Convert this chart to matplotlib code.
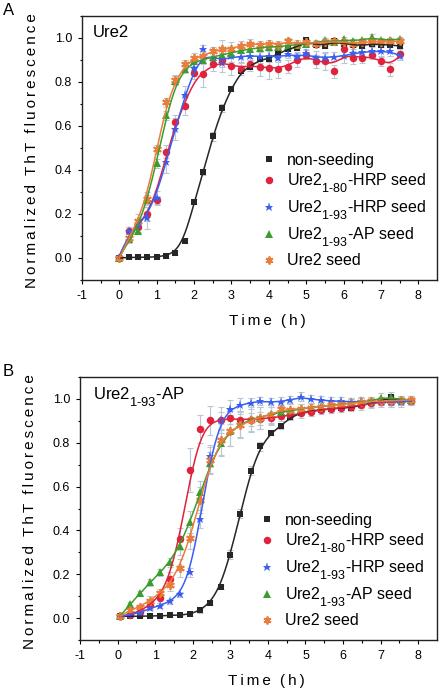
import numpy as np
import matplotlib
matplotlib.use("Agg")
import matplotlib.pyplot as plt
from matplotlib.lines import Line2D

plt.rcParams['font.family'] = ['Liberation Sans', 'DejaVu Sans']
plt.rcParams['mathtext.fontset'] = 'custom'
plt.rcParams['mathtext.rm'] = 'Liberation Sans'
plt.rcParams['mathtext.it'] = 'Liberation Sans:italic'
plt.rcParams['mathtext.bf'] = 'Liberation Sans:bold'
plt.rcParams['axes.unicode_minus'] = False
try:
    import matplotlib._mathtext as _mt
    _mt.SHRINK_FACTOR = 0.78
    _mt.FontConstantsBase.sub1 = 0.8
except Exception:
    pass

# ---------------- data: panel A (Ure2) ----------------
time_A = [0, 0.25, 0.5, 0.75, 1.0, 1.25, 1.5, 1.75, 2.0, 2.25, 2.5, 2.75, 3.0, 3.25, 3.5, 3.75,
          4.0, 4.25, 4.5, 4.75, 5.0, 5.25, 5.5, 5.75, 6.0, 6.25, 6.5, 6.75, 7.0, 7.25, 7.5]
nonseed_A = [0, 0.003, 0.003, 0.003, 0.005, 0.01, 0.023, 0.079, 0.256, 0.391, 0.554, 0.682, 0.770,
             0.852, 0.870, 0.903, 0.903, 0.93, 0.95, 0.955, 0.99, 0.968, 0.965, 0.985, 0.975,
             0.968, 0.965, 0.975, 0.968, 0.97, 0.963]
hrp80_A = [0, 0.122, 0.14, 0.20, 0.263, 0.484, 0.618, 0.690, 0.842, 0.838, 0.88, 0.90, 0.872,
           0.86, 0.88, 0.868, 0.863, 0.86, 0.869, 0.90, 0.925, 0.895, 0.895, 0.849, 0.95,
           0.91, 0.907, 0.925, 0.895, 0.857, 0.929]
hrp93_A = [0, 0.122, 0.15, 0.18, 0.274, 0.436, 0.588, 0.740, 0.865, 0.948, 0.91, 0.887, 0.92,
           0.915, 0.92, 0.915, 0.92, 0.91, 0.929, 0.915, 0.93, 0.91, 0.91, 0.915, 0.916,
           0.93, 0.935, 0.94, 0.94, 0.94, 0.92]
ap93_A = [0, 0.085, 0.125, 0.265, 0.43, 0.648, 0.806, 0.86, 0.895, 0.90, 0.915, 0.925, 0.93,
          0.945, 0.95, 0.955, 0.96, 0.96, 0.965, 0.97, 0.975, 0.978, 0.99, 0.98, 0.994,
          0.985, 0.99, 1.006, 0.99, 0.99, 0.995]
ure2_A = [0, 0.09, 0.17, 0.27, 0.495, 0.708, 0.81, 0.88, 0.91, 0.92, 0.94, 0.95, 0.95, 0.965,
          0.975, 0.97, 0.975, 0.97, 0.985, 0.975, 0.98, 0.975, 0.98, 0.985, 0.98, 0.975,
          0.98, 0.985, 0.98, 0.985, 0.985]
err_nonseed_A = [0.005, 0.005, 0.005, 0.005, 0.005, 0.008, 0.01, 0.01, 0.01, 0.015, 0.02, 0.02,
                 0.01, 0.01, 0.01, 0.015, 0.01, 0.01, 0.01, 0.01, 0.01, 0.01, 0.01, 0.01, 0.01,
                 0.01, 0.01, 0.01, 0.01, 0.01, 0.01]
err_hrp80_A = [0.005, 0.02, 0.02, 0.03, 0.02, 0.03, 0.03, 0.04, 0.03, 0.06, 0.03, 0.03, 0.04,
               0.03, 0.03, 0.04, 0.05, 0.04, 0.03, 0.03, 0.02, 0.03, 0.04, 0.03, 0.03, 0.03,
               0.02, 0.02, 0.02, 0.03, 0.02]
err_hrp93_A = [0.005, 0.02, 0.02, 0.05, 0.03, 0.05, 0.05, 0.04, 0.03, 0.02, 0.02, 0.04, 0.03,
               0.03, 0.02, 0.02, 0.02, 0.02, 0.02, 0.02, 0.02, 0.03, 0.02, 0.02, 0.03, 0.02,
               0.02, 0.02, 0.02, 0.02, 0.02]
err_ap93_A = [0.005, 0.01, 0.015, 0.02, 0.02, 0.02, 0.02, 0.02, 0.02, 0.02, 0.015, 0.015, 0.015,
              0.015, 0.015, 0.015, 0.01, 0.01, 0.01, 0.01, 0.01, 0.01, 0.01, 0.01, 0.01, 0.01,
              0.01, 0.01, 0.01, 0.01, 0.01]
err_ure2_A = [0.005, 0.02, 0.03, 0.03, 0.02, 0.02, 0.02, 0.02, 0.02, 0.02, 0.02, 0.04, 0.03,
              0.02, 0.02, 0.015, 0.015, 0.015, 0.015, 0.015, 0.015, 0.015, 0.015, 0.015, 0.015,
              0.015, 0.015, 0.015, 0.015, 0.015, 0.015]

# ---------------- data: panel B (Ure2 1-93 AP) ----------------
time_B = [0.07, 0.34, 0.6, 0.87, 1.14, 1.4, 1.67, 1.94, 2.2, 2.47, 2.74, 3.0, 3.27, 3.54, 3.8,
          4.07, 4.34, 4.6, 4.87, 5.14, 5.4, 5.67, 5.94, 6.2, 6.47, 6.74, 7.0, 7.27, 7.54, 7.8]
nonseed_B = [0.008, 0.008, 0.008, 0.01, 0.01, 0.012, 0.014, 0.017, 0.035, 0.068, 0.141, 0.289,
             0.476, 0.672, 0.784, 0.845, 0.875, 0.918, 0.936, 0.945, 0.95, 0.955, 0.958, 0.96,
             0.97, 0.98, 0.99, 1.01, 0.99, 0.99]
hrp80_B = [0.008, 0.015, 0.03, 0.06, 0.091, 0.178, 0.361, 0.674, 0.863, 0.902, 0.902, 0.915,
           0.903, 0.906, 0.91, 0.912, 0.92, 0.925, 0.935, 0.94, 0.95, 0.955, 0.96, 0.965, 0.97,
           0.98, 0.985, 0.985, 0.99, 0.99]
hrp93_B = [0.008, 0.015, 0.025, 0.045, 0.057, 0.076, 0.108, 0.208, 0.452, 0.74, 0.903, 0.954,
           0.973, 0.983, 0.99, 0.985, 0.988, 0.995, 1.01, 0.998, 0.995, 0.99, 0.99, 0.985,
           0.99, 0.985, 0.99, 0.985, 0.985, 0.99]
ap93_B = [0.01, 0.065, 0.114, 0.163, 0.208, 0.254, 0.33, 0.437, 0.574, 0.708, 0.80, 0.855,
          0.885, 0.91, 0.915, 0.93, 0.94, 0.945, 0.955, 0.96, 0.965, 0.97, 0.975, 0.98, 0.985,
          0.99, 1.005, 1.01, 0.995, 0.995]
ure2_B = [0.008, 0.038, 0.05, 0.08, 0.114, 0.152, 0.228, 0.365, 0.54, 0.72, 0.814, 0.855,
          0.88, 0.905, 0.915, 0.925, 0.955, 0.95, 0.955, 0.96, 0.965, 0.97, 0.975, 0.98,
          0.985, 0.99, 0.99, 0.99, 0.995, 0.995]
err_nonseed_B = [0.005, 0.005, 0.005, 0.005, 0.005, 0.005, 0.005, 0.008, 0.01, 0.01, 0.01,
                 0.02, 0.02, 0.02, 0.02, 0.01, 0.01, 0.01, 0.01, 0.01, 0.01, 0.01, 0.01, 0.01,
                 0.01, 0.01, 0.01, 0.01, 0.01, 0.01]
err_hrp80_B = [0.005, 0.01, 0.01, 0.02, 0.02, 0.03, 0.05, 0.10, 0.065, 0.065, 0.04, 0.03,
               0.03, 0.03, 0.03, 0.03, 0.02, 0.02, 0.02, 0.02, 0.02, 0.02, 0.02, 0.02, 0.02,
               0.02, 0.02, 0.02, 0.02, 0.02]
err_hrp93_B = [0.005, 0.01, 0.01, 0.01, 0.01, 0.01, 0.01, 0.02, 0.04, 0.05, 0.06, 0.04, 0.03,
               0.02, 0.02, 0.02, 0.02, 0.02, 0.02, 0.02, 0.02, 0.02, 0.02, 0.02, 0.02, 0.02,
               0.02, 0.02, 0.02, 0.02]
err_ap93_B = [0.005, 0.01, 0.01, 0.015, 0.015, 0.02, 0.04, 0.05, 0.05, 0.05, 0.06, 0.07, 0.06,
              0.06, 0.05, 0.04, 0.03, 0.03, 0.02, 0.02, 0.02, 0.02, 0.02, 0.02, 0.02, 0.02,
              0.02, 0.02, 0.02, 0.02]
err_ure2_B = [0.005, 0.01, 0.01, 0.02, 0.02, 0.03, 0.04, 0.05, 0.06, 0.06, 0.07, 0.07, 0.06,
              0.05, 0.05, 0.04, 0.03, 0.03, 0.02, 0.02, 0.02, 0.02, 0.02, 0.02, 0.02, 0.02,
              0.02, 0.02, 0.02, 0.02]

labels = ['non-seeding',
          r'Ure2$_{\text{1-80}}$-HRP seed',
          r'Ure2$_{\text{1-93}}$-HRP seed',
          r'Ure2$_{\text{1-93}}$-AP seed',
          'Ure2 seed']
colors = ['#262626', '#e0233c', '#3a5ff0', '#3c9d2e', '#ea7d3c']
markers = ['s', 'o', '*', '^', (6, 2, 0)]
msizes = [4.4, 5.4, 6.8, 5.4, 6.2]
ERR_COLOR = '#b9c6d4'


def smooth(t, y, bw, n=400):
    t = np.asarray(t, float)
    y = np.asarray(y, float)
    tg = np.linspace(t.min(), t.max(), n)
    out = np.empty_like(tg)
    for i, x0 in enumerate(tg):
        w = np.exp(-0.5 * ((t - x0) / bw) ** 2)
        W = w.sum()
        tm = (w * t).sum() / W
        ym = (w * y).sum() / W
        b = (w * (t - tm) * (y - ym)).sum() / (w * (t - tm) ** 2).sum()
        out[i] = ym + b * (x0 - tm)
    return tg, out


def spaced(word, n=1):
    return ('\u2009' * n).join(word)


def draw_panel(ax, t, series, errs, bws):
    for k, (y, e) in enumerate(zip(series, errs)):
        ax.errorbar(t, y, yerr=e, fmt='none', ecolor=ERR_COLOR, elinewidth=0.8,
                    capsize=2.0, capthick=0.8, zorder=2)
    for k, y in enumerate(series):
        mk = markers[k]
        if k == 4:
            ax.plot(t, y, linestyle='none', marker=mk, markersize=msizes[k],
                    markeredgecolor=colors[k], markeredgewidth=1.3, zorder=3 + k * 0.1)
        else:
            ax.plot(t, y, linestyle='none', marker=mk, markersize=msizes[k],
                    color=colors[k], markeredgewidth=0, zorder=3 + k * 0.1)
    for k, y in enumerate(series):
        tg, yg = smooth(t, y, bws[k])
        ax.plot(tg, yg, color=colors[k], lw=1.1, zorder=4)

    ax.set_xlim(-1, 8.5)
    ax.set_ylim(-0.1, 1.1)
    ax.set_xticks(range(-1, 9))
    ax.set_xticks(np.arange(-0.5, 8.5, 1.0), minor=True)
    ax.set_yticks([0.0, 0.2, 0.4, 0.6, 0.8, 1.0])
    ax.set_yticks([-0.1, 0.1, 0.3, 0.5, 0.7, 0.9, 1.1], minor=True)
    ax.set_yticklabels(['0.0', '0.2', '0.4', '0.6', '0.8', '1.0'])
    ax.tick_params(which='major', direction='out', length=3.2, width=0.8, labelsize=9,
                   top=False, right=False)
    ax.tick_params(which='minor', direction='out', length=1.8, width=0.8, top=False, right=False)
    ax.tick_params(axis='x', pad=4)
    ax.tick_params(axis='y', pad=4)
    for s in ax.spines.values():
        s.set_linewidth(1.0)
        s.set_color('#222222')
    gap = '\u2009' * 3
    ax.set_xlabel(spaced('Time') + gap + spaced('(h)'), fontsize=11, va='center')
    ax.set_ylabel(spaced('Normalized') + gap + spaced('ThT') + gap + spaced('fluorescence'),
                  fontsize=11, va='center')
    handles = []
    for k in range(5):
        if k == 4:
            h = Line2D([], [], linestyle='none', marker=markers[k], markersize=msizes[k] - 0.5,
                       markeredgecolor=colors[k], markeredgewidth=1.3)
        else:
            h = Line2D([], [], linestyle='none', marker=markers[k], markersize=msizes[k],
                       color=colors[k], markeredgewidth=0)
        handles.append(h)
    return handles


fig = plt.figure(figsize=(4.40, 6.91), dpi=100)
axA = fig.add_axes([82 / 440, (691 - 280) / 691, 355 / 440, 264 / 691])
axB = fig.add_axes([80 / 440, (691 - 640) / 691, 357 / 440, 263 / 691])

hA = draw_panel(axA, time_A, [nonseed_A, hrp80_A, hrp93_A, ap93_A, ure2_A],
                [err_nonseed_A, err_hrp80_A, err_hrp93_A, err_ap93_A, err_ure2_A],
                [0.2, 0.25, 0.25, 0.22, 0.22])
hB = draw_panel(axB, time_B, [nonseed_B, hrp80_B, hrp93_B, ap93_B, ure2_B],
                [err_nonseed_B, err_hrp80_B, err_hrp93_B, err_ap93_B, err_ure2_B],
                [0.2, 0.25, 0.2, 0.25, 0.25])

for ax, h, x0 in ((axA, hA, 0.512), (axB, hB, 0.509)):
    ax.xaxis.set_label_coords(0.522, -0.155)
    ax.yaxis.set_label_coords(-0.141, 0.49)
    ax.legend(h, labels, loc='lower left', bbox_to_anchor=(x0, 0.045), frameon=False,
              fontsize=11.5, handlelength=0.6, handletextpad=0.85, labelspacing=0.25,
              borderpad=0, borderaxespad=0)

axA.text(0.031, 0.92, 'Ure2', transform=axA.transAxes, fontsize=12, va='baseline')
axB.text(0.036, 0.913, r'Ure2$_{\text{1-93}}$-AP', transform=axB.transAxes, fontsize=12,
         va='baseline')
fig.text(0.006, 1 - 15 / 691, 'A', fontsize=12, va='baseline')
fig.text(0.006, 1 - 376 / 691, 'B', fontsize=12, va='baseline')

fig.savefig('out.png', dpi=100, facecolor='white')
